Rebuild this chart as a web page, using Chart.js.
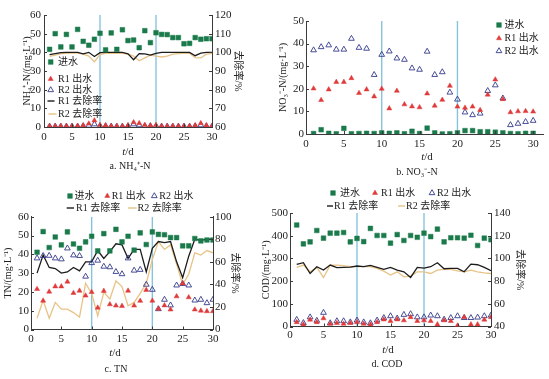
<!DOCTYPE html>
<html><head><meta charset="utf-8">
<script src="https://cdn.jsdelivr.net/npm/chart.js@4.4.0/dist/chart.umd.min.js"></script>
<style>
html,body{margin:0;padding:0;background:#fff;}
body{width:549px;height:379px;position:relative;overflow:hidden;}
canvas{position:absolute;}
</style></head><body>
<canvas id="ca" width="255" height="180" style="left:0px;top:0px"></canvas>
<canvas id="cb" width="294" height="180" style="left:255px;top:0px"></canvas>
<canvas id="cc" width="255" height="199" style="left:0px;top:180px"></canvas>
<canvas id="cd" width="294" height="199" style="left:255px;top:180px"></canvas>
<script>
// ---------- data ----------
const days = [1,2,3,4,5,6,7,8,9,10,11,12,13,14,15,16,17,18,19,20,21,22,23,24,25,26,27,28,29,30];
const stageBreaks = [10, 20];

// a. NH4+-N
const nh4Inflow = [41.6,50.0,42.9,49.6,42.9,52.3,45.9,43.8,47.0,50.2,41.3,50.4,41.6,52.1,46.3,46.6,42.5,51.6,45.2,50.5,49.6,49.5,47.9,47.9,44.6,44.8,47.9,47.0,47.3,47.3];
const nh4R1Out = [0.5,0.5,0.5,0.5,0.5,0.6,0.8,1.8,3.5,1.0,0.8,0.5,0.5,0.5,0.8,2.5,2.0,1.0,0.8,1.0,0.5,0.5,0.5,0.5,0.5,0.5,0.8,2.0,0.8,0.5];
const nh4R2Out = [0.3,0.3,0.3,0.3,0.3,0.3,0.5,0.8,1.5,0.5,0.5,0.3,0.3,0.3,0.5,1.5,1.0,0.5,0.5,0.5,0.3,0.3,0.3,0.3,0.3,0.3,0.5,1.0,0.5,0.3];
const nh4R1Rate = [98.8,99.3,99.8,100,100,100,99.2,100,97.8,99.8,100,100,100,100,99.2,96.0,99.3,99.2,98.5,99.5,100,100,100,100,100,100,98.2,99.6,100,100];
const nh4R2Rate = [97.8,98.5,99.3,99.5,99.6,99.6,99.0,98.0,95.0,98.8,99.5,99.5,99.5,99.5,99.0,98.0,95.5,97.0,98.5,98.0,97.5,98.0,99.0,99.3,99.5,99.5,97.2,97.0,99.0,99.5];

// b. NO3--N
const no3Inflow = [0.2,1.9,0.3,0.1,2.5,0.1,0.2,0.3,0.2,0.5,0.3,0.5,0.1,1.2,0.2,2.6,0.5,0.0,0.1,0.5,1.5,1.5,1.0,1.0,0.8,0.5,0.2,0.1,0.3,0.3];
const no3R1Out = [20.1,15.0,19.7,23.0,23.0,24.7,18.1,19.7,16.6,20.0,11.3,19.1,13.1,12.2,11.8,17.9,12.5,15.1,21.3,12.1,11.6,12.1,10.6,17.4,24.1,15.4,9.6,10.0,10.1,9.9];
const no3R2Out = [37.1,38.5,39.3,37.4,37.4,42.2,38.2,37.8,26.2,35.1,36.6,33.5,32.9,29.1,28.5,36.5,26.2,27.4,18.4,15.3,9.6,8.4,9.1,19.1,21.6,15.8,4.0,4.6,5.4,5.9];

// c. TN
const tnInflow = [41.1,52.1,43.6,49.2,45.0,51.9,45.5,43.2,46.6,49.6,41.8,51.0,41.8,53.3,46.6,49.6,42.2,51.4,45.2,51.9,50.6,50.4,48.9,48.9,44.5,44.5,48.4,47.1,47.6,47.6];
const tnR1Out = [21.5,15.3,20.1,22.9,22.9,25.4,19.4,20.6,18.0,19.9,11.6,20.5,13.4,12.7,12.5,20.6,12.7,15.2,21.0,15.3,11.0,12.8,10.6,17.6,24.5,17.1,10.6,10.0,9.7,9.7];
const tnR2Out = [37.9,39.2,39.3,37.9,37.4,43.2,39.5,39.2,28.2,35.4,36.7,33.5,33.2,30.7,29.5,37.9,31.4,31.8,23.9,21.2,10.9,15.9,12.9,23.5,24.3,23.5,15.5,15.9,14.1,15.9];
const tnR1Rate = [50,66,55,54,50,51,55,52,60,60,70,63,69,76,75,63,71,71,51,72,78,77,78,60,46,65,80,79,80,80];
const tnR2Rate = [10,26,10,24,18,18,15,11,41,32,12,33,27,43,38,21,24,32,41,62,78,71,75,58,40,49,68,66,70,68];

// d. COD
const codInflow = [447,364,373,423,389,411,411,414,373,388,374,432,401,401,367,405,379,401,393,411,396,429,373,391,391,389,402,357,389,382];
const codR1Out = [19,9,30,19,36,12,15,12,15,19,12,9,19,31,24,31,27,41,24,27,24,9,27,24,4,41,9,9,30,41];
const codR2Out = [30,16,41,26,61,15,24,24,19,27,19,15,27,38,46,36,52,55,41,41,49,46,31,38,46,38,38,40,46,49];
const codR1Rate = [94.7,96.2,86.7,92.7,89.7,94.1,91.8,92.1,92.4,93.3,92.7,93.8,92.1,90.3,92.1,89.7,88.2,83.2,92.1,91.5,92.7,96.2,90.9,91.2,91.2,88.2,95.0,94.4,92.1,89.1];
const codR2Rate = [92.1,94.1,88.2,92.1,83.2,94.1,94.1,93.6,92.7,92.7,92.7,92.7,91.2,88.8,85.3,88.2,83.8,84.4,88.2,88.2,86.7,89.7,90.3,90.3,89.1,88.2,89.7,88.2,87.3,86.7];

// labels
const seriesLabels = ['进水', 'R1 出水', 'R2 出水', 'R1 去除率', 'R2 去除率'];
const rateTitle = '去除率/%';

// ---------- style ----------
const FONT = "'Liberation Serif','Noto Sans CJK SC',serif";
const COL = {inflow:'#1b7a4b', r1:'#e03a3a', r2:'#343a8a', r1Line:'#1c1c1c', r2Line:'#e8c386', brk:'#88c3de', axis:'#3a3a3a', text:'#222'};

function pts(ys){ return days.map((d,i)=>({x:d, y:ys[i]})); }

function drawMarker(ctx, style, x, y, r, fill, stroke, bw){
  ctx.beginPath();
  if (style === 'rect') {
    const s = r*Math.SQRT1_2; ctx.rect(x-s, y-s, 2*s, 2*s);
  } else {
    let a = 0;
    ctx.moveTo(x + Math.sin(a)*r, y - Math.cos(a)*r); a += 2*Math.PI/3;
    ctx.lineTo(x + Math.sin(a)*r, y - Math.cos(a)*r); a += 2*Math.PI/3;
    ctx.lineTo(x + Math.sin(a)*r, y - Math.cos(a)*r);
    ctx.closePath();
  }
  if (fill && fill !== 'transparent') { ctx.fillStyle = fill; ctx.fill(); }
  ctx.lineWidth = bw; ctx.strokeStyle = stroke; ctx.stroke();
}

const panelLegend = {
  id:'panelLegend',
  afterDraw(chart, args, opts){
    if (!opts || !opts.items) return;
    const ctx = chart.ctx; ctx.save();
    ctx.font = (opts.size||10) + 'px ' + FONT;
    ctx.textBaseline = 'middle'; ctx.textAlign = 'left';
    for (const it of opts.items){
      const ds = chart.data.datasets[it.ds];
      if (ds.showLine === false){
        drawMarker(ctx, ds.pointStyle, it.x, it.y, ds.pointRadius, ds.backgroundColor, ds.borderColor, ds.pointBorderWidth||1);
      } else {
        ctx.beginPath(); ctx.strokeStyle = ds.borderColor; ctx.lineWidth = 1.4;
        ctx.moveTo(it.x, it.y); ctx.lineTo(it.x2, it.y); ctx.stroke();
      }
      ctx.fillStyle = COL.text;
      ctx.fillText(ds.label, it.tx, it.y + 0.5);
    }
    ctx.restore();
  }
};

const innerTicks = {
  id:'innerTicks',
  afterDraw(chart){
    const ctx = chart.ctx, ca = chart.chartArea;
    ctx.save(); ctx.strokeStyle = COL.axis; ctx.lineWidth = 1;
    for (const s of Object.values(chart.scales)){
      for (const t of s.ticks){
        const p = Math.round(s.getPixelForValue(t.value)) + 0.5;
        ctx.beginPath();
        if (s.axis === 'x'){ ctx.moveTo(p, ca.bottom); ctx.lineTo(p, ca.bottom - 3); }
        else if (s.position === 'left'){ ctx.moveTo(ca.left, p); ctx.lineTo(ca.left + 3, p); }
        else { ctx.moveTo(ca.right, p); ctx.lineTo(ca.right - 3, p); }
        ctx.stroke();
      }
    }
    ctx.restore();
  }
};

const captions = {
  id:'captions',
  afterDraw(chart, args, opts){
    if (!opts || !opts.items) return;
    const ctx = chart.ctx; ctx.save();
    ctx.textBaseline = 'middle'; ctx.textAlign = 'left'; ctx.fillStyle = COL.text;
    for (const it of opts.items){
      const fonts = it.parts.map(p => (p[1] ? 'italic ' : '') + it.size + 'px ' + FONT);
      let w = 0; it.parts.forEach((p,i)=>{ ctx.font = fonts[i]; w += ctx.measureText(p[0]).width; });
      let x = it.x - w/2;
      it.parts.forEach((p,i)=>{ ctx.font = fonts[i]; ctx.fillText(p[0], x, it.y); x += ctx.measureText(p[0]).width; });
    }
    ctx.restore();
  }
};

function makePanel(id, g, spec){
  const tickFont = {family:FONT, size:11};
  const titleFont = {family:FONT, size:10};
  const datasets = [
    {label:seriesLabels[0], data:pts(spec.inflow), showLine:false, pointStyle:'rect', pointRadius:3.3, backgroundColor:COL.inflow, borderColor:COL.inflow, pointBorderWidth:0.5, yAxisID:'y'},
    {label:seriesLabels[1], data:pts(spec.r1), showLine:false, pointStyle:'triangle', pointRadius:2.9, backgroundColor:COL.r1, borderColor:COL.r1, pointBorderWidth:0.5, yAxisID:'y'},
    {label:seriesLabels[2], data:pts(spec.r2), showLine:false, pointStyle:'triangle', pointRadius:3.3, backgroundColor:'transparent', borderColor:COL.r2, pointBorderWidth:0.9, yAxisID:'y'}
  ];
  if (spec.rate1){
    datasets.push({label:seriesLabels[3], data:pts(spec.rate1), borderColor:COL.r1Line, borderWidth:1.3, pointRadius:0, tension:0, yAxisID:'y2'});
    datasets.push({label:seriesLabels[4], data:pts(spec.rate2), borderColor:COL.r2Line, borderWidth:1.3, pointRadius:0, tension:0, yAxisID:'y2'});
  }
  stageBreaks.forEach(b => datasets.push({label:'', data:[{x:b,y:spec.yMin},{x:b,y:spec.yMax}], borderColor:COL.brk, borderWidth:1.4, pointRadius:0, yAxisID:'y'}));

  const scales = {
    x:{type:'linear', min:0, max:spec.xMax, afterFit:s=>{ s.height = g.h - g.b; },
       ticks:{stepSize:5, includeBounds:false, autoSkip:false, maxRotation:0, font:tickFont, color:COL.text, padding:g.xPad},
       grid:{display:false, drawTicks:false, tickLength:0}, border:{color:COL.axis, width:1}},
    y:{type:'linear', position:'left', min:spec.yMin, max:spec.yMax, afterFit:s=>{ s.width = g.l; },
       ticks:{stepSize:spec.yStep, includeBounds:false, font:tickFont, color:COL.text, padding:g.yPad},
       grid:{display:false, drawTicks:false, tickLength:0}, border:{color:COL.axis, width:1},
       title:{display:true, text:spec.yTitle, font:titleFont, color:COL.text, padding:{top:g.yTitleX - 6, bottom:0}}}
  };
  if (spec.rate1){
    scales.y2 = {type:'linear', position:'right', min:spec.y2Min, max:spec.y2Max, afterFit:s=>{ s.width = g.w - g.r; },
       ticks:{stepSize:spec.y2Step, includeBounds:false, font:tickFont, color:COL.text, padding:g.y2Pad},
       grid:{display:false, drawTicks:false, tickLength:0}, border:{color:COL.axis, width:1},
       title:{display:true, text:rateTitle, font:titleFont, color:COL.text, padding:{top:g.w - g.y2TitleX - 6, bottom:0}}};
  }
  return new Chart(document.getElementById(id), {
    type:'line',
    data:{datasets},
    options:{
      responsive:false, animation:false, devicePixelRatio:1,
      layout:{padding:{top:g.t, left:0, right:spec.rate1 ? 0 : g.w - g.r, bottom:0}, autoPadding:false},
      scales,
      plugins:{
        legend:{display:false}, tooltip:{enabled:false},
        panelLegend:{items:spec.legend, size:10},
        captions:{items:[
          {x:g.tdX, y:g.tdY, size:11, parts:[['t',true],['/d',false]]},
          {x:g.capX, y:g.capY, size:10, parts:[[spec.caption,false]]}
        ]}
      }
    },
    plugins:[innerTicks, panelLegend, captions]
  });
}

// a
makePanel('ca', {w:255,h:180,l:44,r:212,t:15,b:127,xPad:4,yPad:3,y2Pad:3,yTitleX:27,y2TitleX:238,tdX:128,tdY:152,capX:130,capY:166},
  {inflow:nh4Inflow, r1:nh4R1Out, r2:nh4R2Out, rate1:nh4R1Rate, rate2:nh4R2Rate, xMax:30,
   yMin:0, yMax:60, yStep:10, y2Min:60, y2Max:120, y2Step:10,
   yTitle:'NH₄⁺-N/(mg·L⁻¹)', caption:'a. NH₄⁺-N',
   legend:[{ds:0,x:50.7,y:62,tx:58},{ds:1,x:50.7,y:79,tx:58},{ds:2,x:50.7,y:90,tx:58},
           {ds:3,x:47.5,x2:54.5,y:101,tx:58},{ds:4,x:48.5,x2:56.5,y:114,tx:58}]});
// b
makePanel('cb', {w:294,h:180,l:51,r:288,t:21,b:134,xPad:4,yPad:2,yTitleX:28,tdX:172,tdY:157,capX:162,capY:172},
  {inflow:no3Inflow, r1:no3R1Out, r2:no3R2Out, xMax:31.3,
   yMin:0, yMax:50, yStep:10,
   yTitle:'NO₃⁻-N/(mg·L⁻¹)', caption:'b. NO₃⁻-N',
   legend:[{ds:0,x:244,y:25,tx:249.5},{ds:1,x:244,y:38.3,tx:249.5},{ds:2,x:244,y:51,tx:249.5}]});
// c
makePanel('cc', {w:255,h:199,l:31,r:213,t:36.7,b:149.5,xPad:3,yPad:2,y2Pad:2,yTitleX:8.5,y2TitleX:235,tdX:115,tdY:173,capX:116,capY:189},
  {inflow:tnInflow, r1:tnR1Out, r2:tnR2Out, rate1:tnR1Rate, rate2:tnR2Rate, xMax:30,
   yMin:0, yMax:60, yStep:10, y2Min:0, y2Max:100, y2Step:20,
   yTitle:'TN/(mg·L⁻¹)', caption:'c. TN',
   legend:[{ds:0,x:70,y:16,tx:74.5},{ds:1,x:107.3,y:16,tx:111.7},{ds:2,x:154.3,y:16,tx:159.3},
           {ds:3,x:66.7,x2:74,y:28,tx:76},{ds:4,x:128,x2:136.7,y:28,tx:137.5}]});
// d
makePanel('cd', {w:294,h:199,l:35,r:236,t:33,b:146.5,xPad:2.5,yPad:2,y2Pad:3,yTitleX:11,y2TitleX:265,tdX:133,tdY:170,capX:132,capY:184},
  {inflow:codInflow, r1:codR1Out, r2:codR2Out, rate1:codR1Rate, rate2:codR2Rate, xMax:30,
   yMin:0, yMax:500, yStep:100, y2Min:40, y2Max:140, y2Step:20,
   yTitle:'COD/(mg·L⁻¹)', caption:'d. COD',
   legend:[{ds:0,x:78,y:13,tx:85},{ds:1,x:120,y:13,tx:126},{ds:2,x:177,y:13,tx:182},
           {ds:3,x:72,x2:78,y:26,tx:79},{ds:4,x:143,x2:150,y:26,tx:151}]});
</script>
</body></html>
